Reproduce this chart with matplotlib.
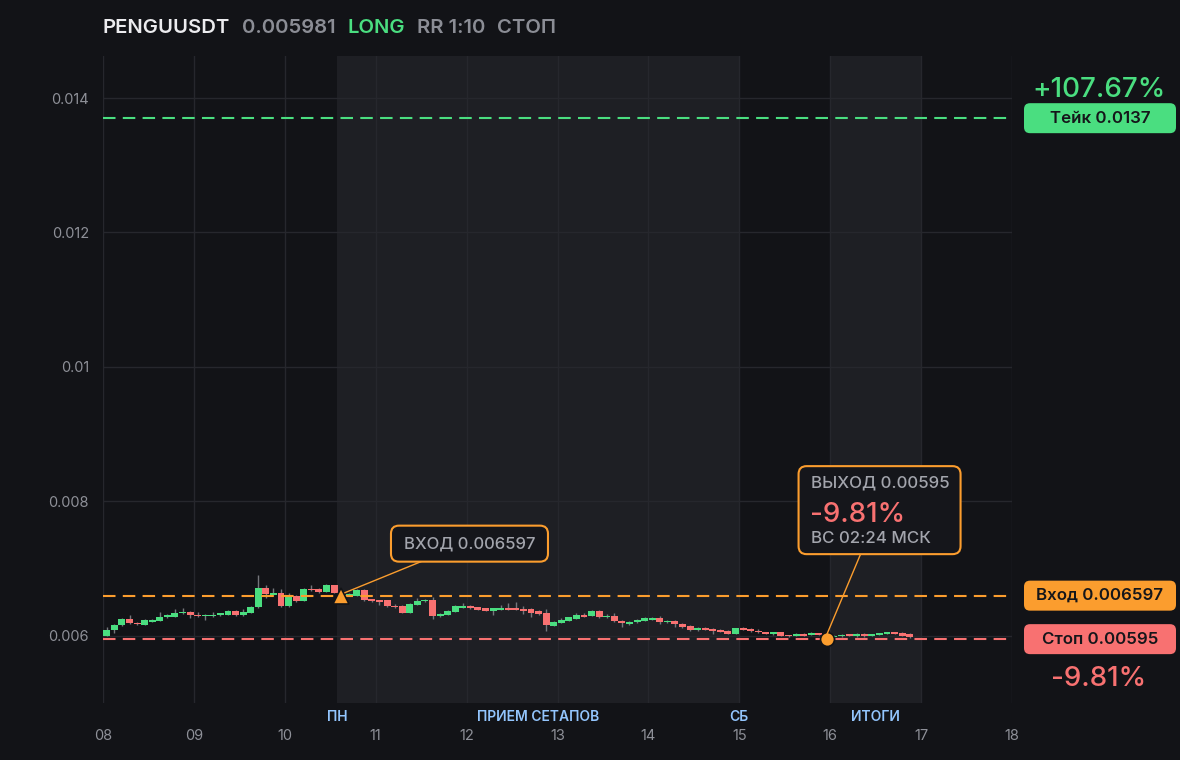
import matplotlib
matplotlib.use("Agg")
import matplotlib.pyplot as plt
import matplotlib.transforms as mtransforms
from matplotlib.patches import FancyBboxPatch
from matplotlib.lines import Line2D
import numpy as np

# ------------------------------------------------------------------
# Data
# ------------------------------------------------------------------
symbol = "PENGUUSDT"
last_price = "0.005981"
side = "LONG"
rr_text = "RR 1:10"
status = "СТОП"

take_price = 0.0137
entry_price = 0.006597
stop_price = 0.00595
take_label = "Тейк 0.0137"
entry_label = "Вход 0.006597"
stop_label = "Стоп 0.00595"
take_pct = "+107.67%"
result_pct = "-9.81%"

entry_t = 10.618          # day of month
exit_t = 15.96
entry_note = "ВХОД 0.006597"
exit_note = "ВЫХОД 0.00595"
exit_time_note = "ВС 02:24 МСК"

day_ticks = [8, 9, 10, 11, 12, 13, 14, 15, 16, 17, 18]
day_labels = ["08", "09", "10", "11", "12", "13", "14", "15", "16", "17", "18"]
price_ticks = [0.006, 0.008, 0.01, 0.012, 0.014]
price_labels = ["0.006", "0.008", "0.01", "0.012", "0.014"]

band_spans = [(10.575, 15.0), (16.0, 17.0)]
band_label_t = [10.575, 12.79, 15.0, 16.5]
band_label_text = ["ПН", "ПРИЕМ СЕТАПОВ", "СБ", "ИТОГИ"]

# 2h candles starting on the 8th
opens = [
    0.006004, 0.006079, 0.006153, 0.006253, 0.006193, 0.006164, 0.006208, 0.006223, 0.006272, 0.006283,
    0.006332, 0.006357, 0.006312, 0.006287, 0.006287, 0.006302, 0.006312, 0.006372, 0.006302, 0.006346,
    0.006421, 0.006714, 0.006610, 0.006639, 0.006436, 0.006595, 0.006520, 0.006699, 0.006699, 0.006650,
    0.006754, 0.006595, 0.006595, 0.006599, 0.006684, 0.006546, 0.006525, 0.006525, 0.006446, 0.006446,
    0.006346, 0.006465, 0.006510, 0.006535, 0.006287, 0.006312, 0.006357, 0.006416, 0.006446, 0.006421,
    0.006406, 0.006376, 0.006387, 0.006412, 0.006412, 0.006401, 0.006401, 0.006367, 0.006342, 0.006149,
    0.006193, 0.006223, 0.006253, 0.006312, 0.006297, 0.006372, 0.006272, 0.006297, 0.006223, 0.006178,
    0.006198, 0.006223, 0.006238, 0.006268, 0.006198, 0.006223, 0.006178, 0.006149, 0.006079, 0.006119,
    0.006104, 0.006089, 0.006074, 0.006030, 0.006115, 0.006104, 0.006074, 0.006055, 0.006030, 0.006055,
    0.006015, 0.006000, 0.006030, 0.006015, 0.006040, 0.006015, 0.005981, 0.005990, 0.006025, 0.005990,
    0.006030, 0.006000, 0.006015, 0.006025, 0.006055, 0.006040, 0.006030,
]
closes = [
    0.006089, 0.006164, 0.006253, 0.006183, 0.006168, 0.006238, 0.006238, 0.006283, 0.006302, 0.006342,
    0.006357, 0.006302, 0.006287, 0.006312, 0.006312, 0.006332, 0.006372, 0.006302, 0.006357, 0.006431,
    0.006714, 0.006620, 0.006639, 0.006436, 0.006595, 0.006520, 0.006699, 0.006674, 0.006650, 0.006754,
    0.006635, 0.006625, 0.006625, 0.006684, 0.006525, 0.006510, 0.006501, 0.006436, 0.006421, 0.006346,
    0.006476, 0.006520, 0.006535, 0.006287, 0.006327, 0.006372, 0.006446, 0.006446, 0.006406, 0.006387,
    0.006376, 0.006406, 0.006412, 0.006387, 0.006387, 0.006372, 0.006346, 0.006327, 0.006153, 0.006204,
    0.006238, 0.006272, 0.006312, 0.006283, 0.006372, 0.006272, 0.006297, 0.006213, 0.006183, 0.006204,
    0.006238, 0.006268, 0.006268, 0.006198, 0.006223, 0.006168, 0.006138, 0.006079, 0.006119, 0.006089,
    0.006074, 0.006055, 0.006030, 0.006115, 0.006089, 0.006064, 0.006049, 0.006030, 0.006055, 0.006000,
    0.005990, 0.006030, 0.006004, 0.006040, 0.006015, 0.005985, 0.006004, 0.006015, 0.006000, 0.006030,
    0.005990, 0.006025, 0.006040, 0.006055, 0.006030, 0.006000, 0.005981,
]
highs = [
    0.006134, 0.006178, 0.006268, 0.006312, 0.006208, 0.006253, 0.006253, 0.006357, 0.006327, 0.006401,
    0.006416, 0.006364, 0.006352, 0.006320, 0.006352, 0.006342, 0.006379, 0.006379, 0.006401, 0.006439,
    0.006907, 0.006748, 0.006714, 0.006699, 0.006635, 0.006602, 0.006706, 0.006754, 0.006714, 0.006766,
    0.006758, 0.006639, 0.006639, 0.006703, 0.006691, 0.006550, 0.006528, 0.006528, 0.006468, 0.006454,
    0.006483, 0.006558, 0.006543, 0.006575, 0.006335, 0.006379, 0.006454, 0.006491, 0.006454, 0.006424,
    0.006409, 0.006409, 0.006461, 0.006486, 0.006501, 0.006436, 0.006409, 0.006387, 0.006397, 0.006216,
    0.006260, 0.006283, 0.006335, 0.006342, 0.006379, 0.006379, 0.006327, 0.006335, 0.006230, 0.006216,
    0.006245, 0.006283, 0.006275, 0.006290, 0.006238, 0.006230, 0.006186, 0.006164, 0.006126, 0.006126,
    0.006112, 0.006097, 0.006082, 0.006119, 0.006126, 0.006112, 0.006097, 0.006059, 0.006059, 0.006059,
    0.006019, 0.006045, 0.006037, 0.006059, 0.006045, 0.006022, 0.006007, 0.006022, 0.006030, 0.006037,
    0.006037, 0.006030, 0.006045, 0.006059, 0.006059, 0.006052, 0.006037,
]
lows = [
    0.006000, 0.006034, 0.006141, 0.006178, 0.006164, 0.006156, 0.006198, 0.006216, 0.006268, 0.006275,
    0.006327, 0.006263, 0.006283, 0.006228, 0.006278, 0.006297, 0.006305, 0.006297, 0.006297, 0.006342,
    0.006416, 0.006561, 0.006605, 0.006421, 0.006427, 0.006501, 0.006513, 0.006669, 0.006639, 0.006644,
    0.006629, 0.006587, 0.006587, 0.006595, 0.006520, 0.006506, 0.006461, 0.006431, 0.006416, 0.006342,
    0.006342, 0.006461, 0.006506, 0.006248, 0.006283, 0.006305, 0.006349, 0.006409, 0.006401, 0.006379,
    0.006372, 0.006302, 0.006379, 0.006379, 0.006379, 0.006323, 0.006272, 0.006312, 0.006064, 0.006141,
    0.006186, 0.006216, 0.006245, 0.006275, 0.006290, 0.006268, 0.006268, 0.006208, 0.006134, 0.006164,
    0.006193, 0.006216, 0.006230, 0.006171, 0.006193, 0.006134, 0.006112, 0.006074, 0.006067, 0.006082,
    0.006030, 0.006052, 0.006022, 0.006022, 0.006082, 0.006059, 0.006045, 0.006022, 0.006007, 0.005993,
    0.005985, 0.005993, 0.006000, 0.006007, 0.006007, 0.005950, 0.005975, 0.005985, 0.005993, 0.005985,
    0.005985, 0.005993, 0.006007, 0.006022, 0.006022, 0.005993, 0.005970,
]

# ------------------------------------------------------------------
# Style
# ------------------------------------------------------------------
BG = "#121317"
BAND = "#1e1f24"
GRID = "#26272d"
TXT = "#8e9098"
GREEN = "#4ade80"
RED = "#f87171"
ORANGE = "#fb9d2e"
BLUE = "#93c5fd"
WICK = "#74767c"

plt.rcParams["font.family"] = ["Inter", "DejaVu Sans"]

W, H = 1180, 760
fig = plt.figure(figsize=(W / 100, H / 100), dpi=100, facecolor=BG)
ax = fig.add_axes([103 / W, 1 - 703 / H, (1012 - 103) / W, (703 - 56) / H])
ax.set_facecolor(BG)
ax.set_xlim(8, 18)
ax.set_ylim(0.005, 0.014625)
for s in ax.spines.values():
    s.set_visible(False)

ax.set_xticks(day_ticks)
ax.set_xticklabels(day_labels)
ax.set_yticks(price_ticks)
ax.set_yticklabels(price_labels)
ax.tick_params(axis="both", length=0, colors=TXT, labelsize=10.5)
ax.tick_params(axis="x", pad=19)
ax.tick_params(axis="y", pad=10)
ax.grid(True, color=GRID, linewidth=1)
ax.set_axisbelow(True)

# session bands
for a, b in band_spans:
    ax.axvspan(a, b, color=BAND, zorder=0, lw=0)

lab_tr = mtransforms.blended_transform_factory(ax.transData, ax.transAxes)
for t, s in zip(band_label_t, band_label_text):
    ax.text(t, -0.0216, s, transform=lab_tr, ha="center", va="center",
            color=BLUE, fontsize=10, fontweight="semibold", clip_on=False)

# candles
o = np.array(opens)
c = np.array(closes)
hi = np.array(highs)
lo = np.array(lows)
t = 8 + (np.arange(len(o)) + 0.5) / 12
up = c >= o
cols = np.where(up, GREEN, RED)
ax.vlines(t, lo, hi, color=WICK, linewidth=1, zorder=2)
body_h = np.maximum(np.abs(c - o), 0.000016)
ax.bar(t, body_h, bottom=np.minimum(o, c), width=1 / 12 * 0.92,
       color=cols, linewidth=0, zorder=3)

# levels
for lvl, col in [(take_price, GREEN), (entry_price, ORANGE), (stop_price, RED)]:
    ax.axhline(lvl, color=col, linewidth=1.5, dashes=(6, 3.5), zorder=4)

# entry / exit markers
ax.plot([entry_t], [entry_price], marker="^", ms=11, color=ORANGE,
        mec=BG, mew=1.2, zorder=7, clip_on=False)
ax.plot([exit_t], [stop_price], marker="o", ms=10, color=ORANGE,
        mec=BG, mew=1.2, zorder=7, clip_on=False)

ID = mtransforms.IdentityTransform()


def to_px(x, y):
    return ax.transData.transform((x, y))


def rbox(x0, y0, w, h, fc, ec="none", lw=0, r=6):
    p = FancyBboxPatch((x0, y0), w, h, boxstyle=f"round,pad=0,rounding_size={r}",
                       fc=fc, ec=ec, lw=lw, transform=ID, zorder=8)
    fig.add_artist(p)


# entry callout
ex, ey = to_px(entry_t, entry_price)
bx0, by0, bw, bh = ex + 50, ey + 34, 157, 36
fig.add_artist(Line2D([ex + 4, bx0 + 30], [ey + 3, by0], color=ORANGE, lw=1, transform=ID, zorder=6))
rbox(bx0, by0, bw, bh, fc="#15161b", ec=ORANGE, lw=1.5, r=8)
fig.text(bx0 + bw / 2, by0 + bh / 2, entry_note, transform=ID, ha="center", va="center",
         color="#a3a5ad", fontsize=12, fontweight="medium", zorder=9)

# exit callout
xx, xy = to_px(exit_t, stop_price)
bx0, by0, bw, bh = xx - 28, xy + 85, 162, 88
fig.add_artist(Line2D([xx, bx0 + 62], [xy + 4, by0], color=ORANGE, lw=1, transform=ID, zorder=6))
rbox(bx0, by0, bw, bh, fc="#15161b", ec=ORANGE, lw=1.5, r=8)
fig.text(bx0 + 12, by0 + 71, exit_note, transform=ID, ha="left", va="center",
         color="#a3a5ad", fontsize=12.2, fontweight="medium", zorder=9)
fig.text(bx0 + 11, by0 + 39, result_pct, transform=ID, ha="left", va="center",
         color=RED, fontsize=20, fontweight="medium", zorder=9)
fig.text(bx0 + 12, by0 + 16, exit_time_note, transform=ID, ha="left", va="center",
         color="#a3a5ad", fontsize=12.2, fontweight="medium", zorder=9)

# right-side price tags
tag_cx = 1100
for lvl, col, s in [(take_price, GREEN, take_label), (entry_price, ORANGE, entry_label),
                    (stop_price, RED, stop_label)]:
    _, py = to_px(8, lvl)
    rbox(tag_cx - 76, py - 15, 152, 30, fc=col, r=6)
    fig.text(tag_cx, py, s, transform=ID, ha="center", va="center",
             color="#15161a", fontsize=12.2, fontweight="semibold", zorder=9)

_, py = to_px(8, take_price)
fig.text(tag_cx - 1, py + 28, take_pct, transform=ID, ha="center", va="center",
         color=GREEN, fontsize=20, fontweight="medium")
_, py = to_px(8, stop_price)
fig.text(tag_cx - 1, py - 40, result_pct, transform=ID, ha="center", va="center",
         color=RED, fontsize=20, fontweight="medium")

# header
hy = 1 - 28 / H
fig.text(103 / W, hy, symbol, color="#ececef", fontsize=14.6, fontweight="semibold", va="center")
fig.text(242 / W, hy, last_price, color="#8b8d95", fontsize=14.6, fontweight="semibold", va="center")
fig.text(347 / W, hy, side, color=GREEN, fontsize=14.6, fontweight="semibold", va="center")
fig.text(417 / W, hy, rr_text, color="#8b8d95", fontsize=14.6, fontweight="semibold", va="center")
fig.text(497 / W, hy, status, color="#8b8d95", fontsize=14.6, fontweight="semibold", va="center")

fig.savefig("out.png", dpi=100, facecolor=BG)
